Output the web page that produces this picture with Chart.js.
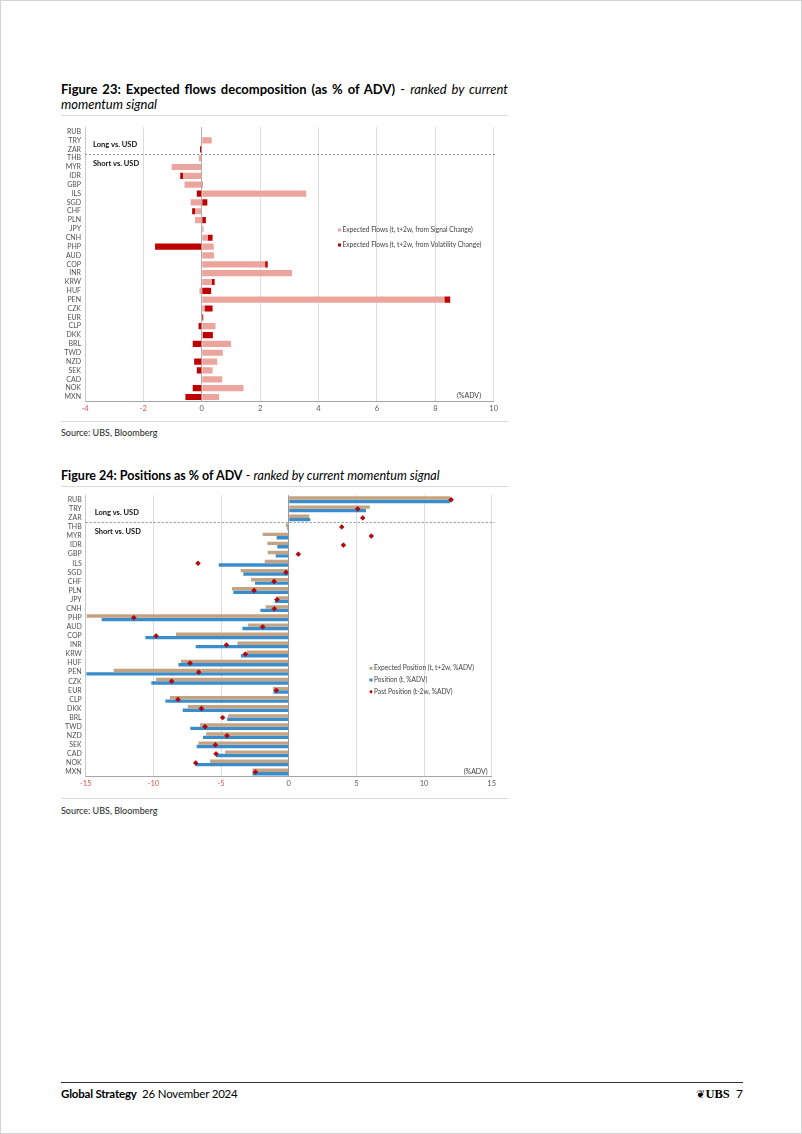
<!DOCTYPE html>
<html>
<head>
<meta charset="utf-8">
<script src="https://cdn.jsdelivr.net/npm/chart.js@4.4.1/dist/chart.umd.min.js"></script>
<style>
body { margin: 0; background: #fff; }
#page { position: relative; width: 800px; height: 1132px; border: 1px solid #d4d4d4; overflow: hidden; font-family: Lato, "Open Sans", sans-serif; color: #000; }
.title { position: absolute; left: 60px; width: 447px; font-size: 13px; line-height: 15px; }
.title .l1 { text-align: justify; text-align-last: justify; white-space: nowrap; }
.rule { position: absolute; left: 60px; width: 447px; height: 1px; background: #d9d9d9; }
.source { position: absolute; left: 60px; font-size: 9px; color: #222; }
canvas { position: absolute; }
#footer-line { position: absolute; left: 60px; width: 682px; top: 1081px; height: 1px; background: #333; }
#footer { position: absolute; left: 60px; top: 1086px; font-size: 11.5px; letter-spacing: -0.2px; }
#footer-right { position: absolute; right: 58px; top: 1085px; font-family: "Liberation Serif", serif; font-size: 12.5px; }
</style>
</head>
<body>
<div id="page">
  <div class="title" style="top:81px">
    <div class="l1"><b>Figure 23: Expected flows decomposition (as % of ADV)</b> - <i>ranked by current</i></div>
    <div><i>momentum signal</i></div>
  </div>
  <div class="rule" style="top:114px"></div>
  <canvas id="flows" width="455" height="300" style="left:55px;top:118px"></canvas>
  <div class="rule" style="top:420px"></div>
  <div class="source" style="top:426px">Source: UBS, Bloomberg</div>

  <div class="title" style="top:467px;font-size:12.5px">
    <div><b>Figure 24: Positions as % of ADV</b> - <i>ranked by current momentum signal</i></div>
  </div>
  <div class="rule" style="top:485px"></div>
  <canvas id="positions" width="455" height="306" style="left:55px;top:486px"></canvas>
  <div class="rule" style="top:797px"></div>
  <div class="source" style="top:804px">Source: UBS, Bloomberg</div>

  <div id="footer-line"></div>
  <div id="footer"><b>Global Strategy</b>&nbsp;&nbsp;26 November 2024</div>
  <div id="footer-right"><span style="font-family:'DejaVu Sans';font-size:11px">❦</span><b>UBS</b>&nbsp;&nbsp;<span style="font-family:Lato,sans-serif;font-size:12px">7</span></div>
</div>

<script>
const categories = ['RUB','TRY','ZAR','THB','MYR','IDR','GBP','ILS','SGD','CHF','PLN','JPY','CNH','PHP','AUD','COP',
  'INR','KRW','HUF','PEN','CZK','EUR','CLP','DKK','BRL','TWD','NZD','SEK','CAD','NOK','MXN'];

// Figure 23
const flowsSignal = [0, 0.34, 0, -0.1, -1.03, -0.64, -0.59, 3.58, -0.38, -0.23, -0.23, 0.06, 0.2, 0.41, 0.42, 2.17,
  3.09, 0.34, -0.08, 8.31, 0.1, 0, 0.47, 0.03, 1.0, 0.72, 0.53, 0.37, 0.7, 1.43, 0.59];
const flowsVol = [0, 0, -0.06, 0, 0, -0.1, 0.03, -0.17, 0.19, -0.1, 0.14, 0, 0.17, -1.6, 0, 0.09,
  0, 0.1, 0.32, 0.2, 0.27, 0.05, -0.11, 0.35, -0.31, 0, -0.26, -0.17, 0, -0.31, -0.56];
const flowTicks = [-4, -2, 0, 2, 4, 6, 8, 10];

// Figure 24
const posExpected = [11.94, 6.0, 1.52, -0.2, -1.92, -1.58, -1.55, -1.77, -3.55, -2.78, -4.19, -0.91, -1.7, -14.93, -3.0, -8.33,
  -3.79, -3.08, -7.96, -12.93, -9.8, -1.16, -8.77, -7.46, -4.48, -6.55, -6.1, -6.67, -4.7, -5.81, -2.68];
const posCurrent = [11.94, 5.71, 1.59, -0.1, -0.89, -0.84, -0.96, -5.17, -3.35, -2.49, -4.09, -1.03, -2.09, -13.82, -3.42, -10.59,
  -6.87, -3.52, -8.15, -14.95, -10.15, -1.13, -9.11, -7.83, -4.55, -7.27, -6.33, -6.8, -5.37, -6.9, -2.68];
const posPast = [12.0, 5.1, 5.47, 3.92, 6.1, 4.04, 0.71, -6.7, -0.2, -1.08, -2.56, -0.86, -1.06, -11.45, -1.92, -9.8,
  -4.6, -3.2, -7.29, -6.65, -8.65, -0.91, -8.18, -6.45, -4.88, -6.18, -4.56, -5.42, -5.37, -6.87, -2.46];
const posTicks = [-15, -10, -5, 0, 5, 10, 15];

Chart.defaults.font.family = 'Lato, "Open Sans", sans-serif';
Chart.defaults.animation = false;

// dashed long/short split, side notes, unit label and a small legend
const extras = {
  id: 'extras',
  afterDatasetsDraw(chart, args, o) {
    const { ctx, chartArea: a, scales: { y } } = chart;
    const split = Math.round((y.getPixelForValue(2) + y.getPixelForValue(3)) / 2) + 0.5;
    ctx.save();
    ctx.strokeStyle = '#8f8f8f';
    ctx.lineWidth = 1;
    ctx.setLineDash([2, 2]);
    ctx.beginPath();
    ctx.moveTo(a.left, split);
    ctx.lineTo(a.right + 3, split);
    ctx.stroke();
    ctx.setLineDash([]);

    ctx.font = 'bold 7.5px Lato';
    ctx.fillStyle = '#111';
    ctx.textBaseline = 'middle';
    ctx.textAlign = 'left';
    ctx.fillText('Long vs. USD', a.left + o.noteX, split - 10);
    ctx.fillText('Short vs. USD', a.left + o.noteX, split + 9.5);

    ctx.font = '7px Lato';
    ctx.fillStyle = '#404040';
    ctx.textAlign = 'right';
    ctx.fillText('(%ADV)', a.right - o.unitRight, a.bottom - o.unitBottom);

    ctx.textAlign = 'left';
    chart.data.datasets.forEach((ds, i) => {
      const ly = o.legendY + i * o.legendGap;
      ctx.fillStyle = ds.backgroundColor;
      if (ds.type === 'line') {
        ctx.beginPath();
        ctx.moveTo(o.legendX + 1.5, ly - 2);
        ctx.lineTo(o.legendX + 3.2, ly);
        ctx.lineTo(o.legendX + 1.5, ly + 2);
        ctx.lineTo(o.legendX - 0.2, ly);
        ctx.fill();
      } else {
        ctx.fillRect(o.legendX, ly - 1.5, 3, 3);
      }
      ctx.fillStyle = '#404040';
      ctx.font = '6.6px Lato';
      ctx.fillText(ds.label, o.legendX + 4.5, ly);
    });
    ctx.restore();
  }
};

const tickColor = c => (c.tick && c.tick.value < 0 ? '#e4504b' : '#595959');

new Chart(document.getElementById('flows'), {
  type: 'bar',
  data: {
    labels: categories,
    datasets: [
      { label: 'Expected Flows (t, t+2w, from Signal Change)', data: flowsSignal, backgroundColor: '#eba59d' },
      { label: 'Expected Flows (t, t+2w, from Volatility Change)', data: flowsVol, backgroundColor: '#c00000' }
    ]
  },
  options: {
    indexAxis: 'y',
    responsive: false,
    layout: { padding: { top: 7.6, right: 17.3, left: 0, bottom: 0 } },
    datasets: { bar: { barPercentage: 0.7, categoryPercentage: 1 } },
    scales: {
      x: {
        stacked: true,
        min: flowTicks[0],
        max: flowTicks[flowTicks.length - 1],
        afterBuildTicks: s => { s.ticks = flowTicks.map(v => ({ value: v })); },
        afterFit: s => { s.height = 17.6; },
        grid: { color: c => (c.tick && c.tick.value === 0 ? '#b0b0b0' : '#dcdcdc'), drawTicks: false },
        border: { color: '#a6a6a6' },
        ticks: { color: tickColor, font: { size: 7.5 }, padding: 3 }
      },
      y: {
        stacked: true,
        afterFit: s => { s.width = 29; },
        grid: { display: false, drawTicks: false },
        border: { color: '#c8c8c8' },
        ticks: { color: '#505050', font: { size: 7 }, padding: 4, autoSkip: false }
      }
    },
    plugins: {
      legend: { display: false },
      tooltip: { enabled: false },
      extras: { noteX: 8, unitRight: 12.7, unitBottom: 5.4, legendX: 282, legendY: 111, legendGap: 15 }
    }
  },
  plugins: [extras]
});

new Chart(document.getElementById('positions'), {
  type: 'bar',
  data: {
    labels: categories,
    datasets: [
      { label: 'Expected Position (t, t+2w, %ADV)', data: posExpected, backgroundColor: '#c4a383', order: 1 },
      { label: 'Position (t, %ADV)', data: posCurrent, backgroundColor: '#3a8dcc', order: 1 },
      {
        type: 'line', indexAxis: 'y', label: 'Past Position (t-2w, %ADV)', data: posPast, order: 0,
        showLine: false, backgroundColor: '#c00000', borderColor: '#8e0010', borderWidth: 0.6,
        pointStyle: 'rectRot', pointRadius: 2.4
      }
    ]
  },
  options: {
    indexAxis: 'y',
    responsive: false,
    layout: { padding: { top: 7.45, right: 19.3, left: 0, bottom: 0 } },
    datasets: { bar: { barPercentage: 1, categoryPercentage: 0.75 } },
    scales: {
      x: {
        min: posTicks[0],
        max: posTicks[posTicks.length - 1],
        afterBuildTicks: s => { s.ticks = posTicks.map(v => ({ value: v })); },
        afterFit: s => { s.height = 16.45; },
        grid: { color: c => (c.tick && c.tick.value === 0 ? '#9a9a9a' : '#dcdcdc'), drawTicks: false },
        border: { color: '#a6a6a6' },
        ticks: { color: tickColor, font: { size: 7.5 }, padding: 3 }
      },
      y: {
        afterFit: s => { s.width = 29.7; },
        grid: { display: false, drawTicks: false },
        border: { color: '#c8c8c8' },
        ticks: { color: '#505050', font: { size: 7 }, padding: 4, autoSkip: false }
      }
    },
    plugins: {
      legend: { display: false },
      tooltip: { enabled: false },
      extras: { noteX: 9, unitRight: 4, unitBottom: 4.8, legendX: 313.5, legendY: 181.3, legendGap: 11.7 }
    }
  },
  plugins: [extras]
});
</script>
</body>
</html>
